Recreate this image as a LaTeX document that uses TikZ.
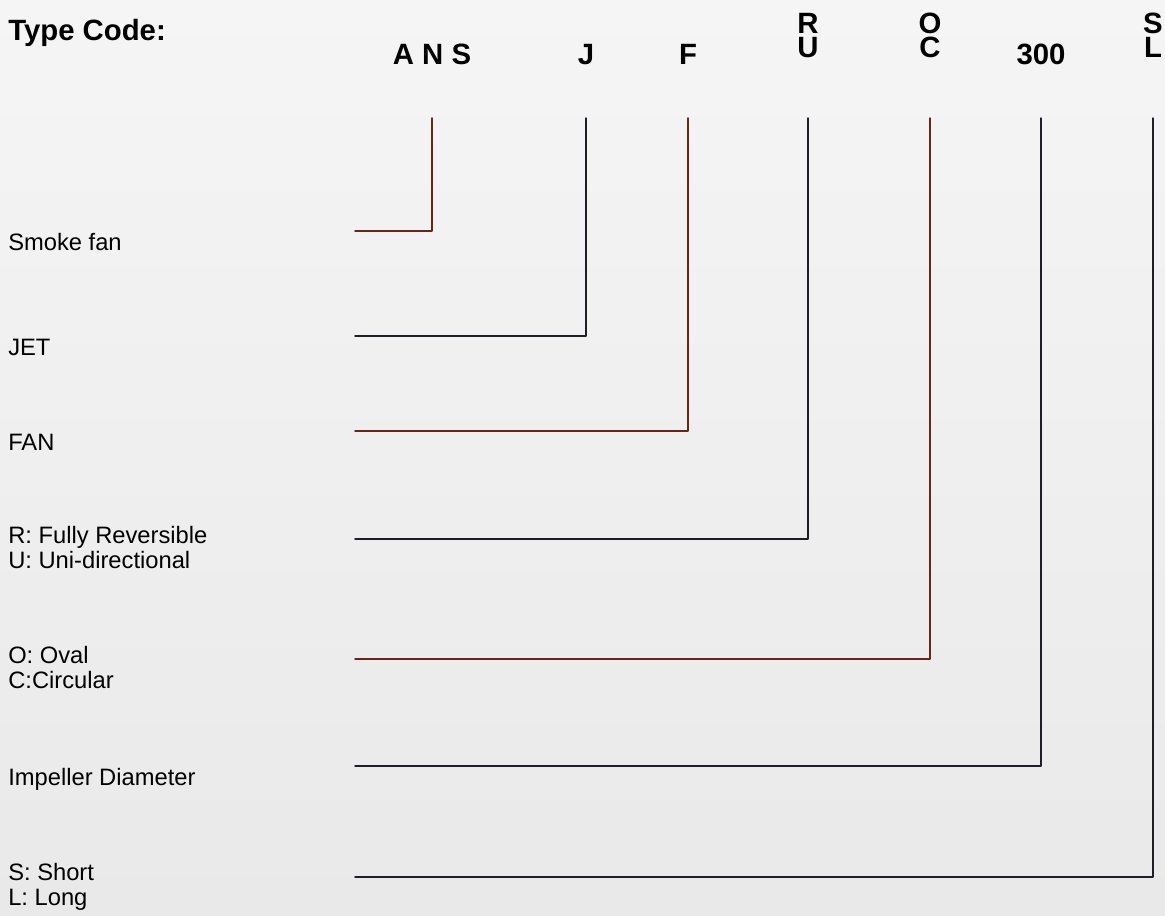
\documentclass[tikz,border=0pt]{standalone}
\usepackage{fontspec}
\setmainfont{Liberation Sans}
\definecolor{bgtop}{RGB}{245,245,245}
\definecolor{bgbot}{RGB}{233,233,233}
\definecolor{lnred}{RGB}{105,38,24}
\definecolor{lndark}{RGB}{30,30,38}
\begin{document}
\begin{tikzpicture}[x=0.75pt, y=-0.75pt, line join=round, line cap=round,
	code/.style={inner sep=0pt, anchor=base, align=center, font=\fontsize{22}{18}\selectfont\bfseries},
	lbl/.style={inner sep=0pt, anchor=base west, align=left, font=\fontsize{17.8}{18.75}\selectfont},
	lred/.style={draw=lnred, line width=1.1pt},
	ldark/.style={draw=lndark, line width=1.1pt}]
				\useasboundingbox (0,0) rectangle (1165,915);
				\shade[top color=bgtop, bottom color=bgbot] (0,0) rectangle (1165,915);
				\node[code, anchor=base west] (title) at (8,40) {Type Code:};
				\node[code] (ans) at (432,64) {A N S};
				\node[code] (j) at (586,64) {J};
				\node[code] (f) at (688,64) {F};
				\node[code] (ru) at (808,57) {R\\U};
				\node[code] (oc) at (930,57) {O\\C};
				\node[code] (dia) at (1041,64) {300};
				\node[code] (sl) at (1153,57) {S\\L};
				\coordinate (top) at (0,118);
				\node[lbl] (smoke) at (8,250) {Smoke fan};
				\node[lbl] (jet) at (8,355) {JET};
				\node[lbl] (fan) at (8,450) {FAN};
				\node[lbl] (dir) at (8,568) {R: Fully Reversible\\U: Uni-directional};
				\node[lbl] (shape) at (8,688) {O: Oval\\C:Circular};
				\node[lbl] (imp) at (8,785) {Impeller Diameter};
				\node[lbl] (len) at (8,905) {S: Short\\L: Long};
				\coordinate (eSmoke) at (355,231);
				\coordinate (eJet) at (355,336);
				\coordinate (eFan) at (355,431);
				\coordinate (eDir) at (355,539);
				\coordinate (eShape) at (355,659);
				\coordinate (eImp) at (355,766);
				\coordinate (eLen) at (355,877);
				\draw[lred] (ans |- top) |- (eSmoke);
				\draw[ldark] (j |- top) |- (eJet);
				\draw[lred] (f |- top) |- (eFan);
				\draw[ldark] (ru |- top) |- (eDir);
				\draw[lred] (oc |- top) |- (eShape);
				\draw[ldark] (dia |- top) |- (eImp);
				\draw[ldark] (sl |- top) |- (eLen);
\end{tikzpicture}
\end{document}
